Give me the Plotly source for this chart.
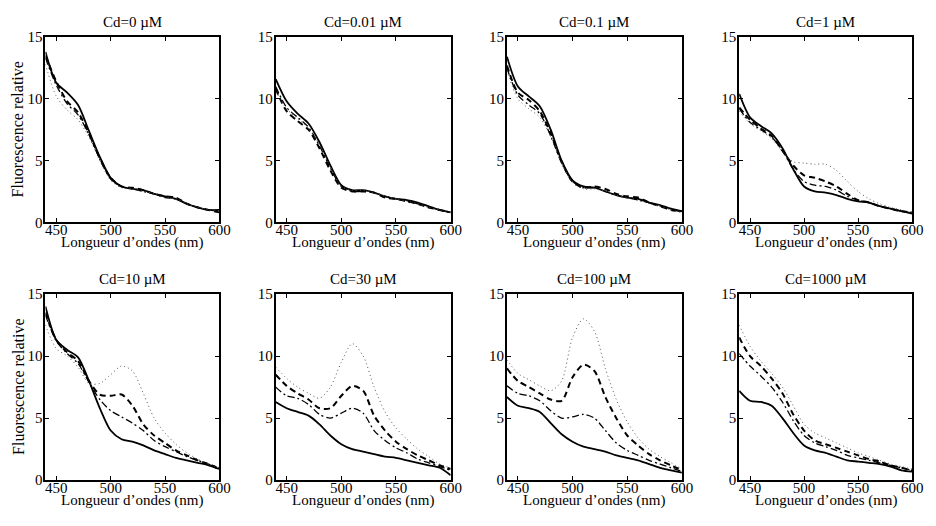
import plotly.graph_objects as go

wavelength = [440, 450, 460, 470, 480, 490, 500, 510, 520, 530, 540, 550, 560, 570, 580, 590, 600]
titles = ["Cd=0 µM", "Cd=0.01 µM", "Cd=0.1 µM", "Cd=1 µM",
          "Cd=10 µM", "Cd=30 µM", "Cd=100 µM", "Cd=1000 µM"]
x_ticks = [450, 500, 550, 600]
y_ticks = [0, 5, 10, 15]
x_title = "Longueur d’ondes (nm)"
y_title = "Fluorescence relative"

# series per panel: solid, dashed, dash-dot, dotted
cd0_solid = [13.8, 11.3, 10.5, 9.5, 7.4, 5.3, 3.6, 2.9, 2.7, 2.6, 2.3, 2.1, 1.9, 1.5, 1.2, 1.0, 1.0]
cd0_dash = [13.5, 11.4, 9.8, 8.9, 7.2, 5.2, 3.6, 2.9, 2.8, 2.6, 2.3, 2.1, 2.0, 1.5, 1.2, 1.0, 0.8]
cd0_dashdot = [13.3, 11.1, 9.6, 8.7, 7.1, 5.1, 3.5, 2.9, 2.7, 2.5, 2.3, 2.0, 1.9, 1.5, 1.2, 1.0, 0.9]
cd0_dot = [12.8, 10.2, 9.1, 8.3, 6.9, 5.0, 3.4, 2.8, 2.7, 2.5, 2.3, 2.0, 1.9, 1.5, 1.2, 1.0, 0.9]

cd001_solid = [11.6, 9.8, 8.8, 8.0, 6.5, 4.6, 3.0, 2.6, 2.6, 2.4, 2.1, 1.9, 1.8, 1.6, 1.3, 1.0, 0.8]
cd001_dash = [10.8, 9.0, 8.2, 7.5, 6.0, 4.2, 2.8, 2.5, 2.5, 2.4, 2.0, 1.9, 1.7, 1.5, 1.2, 1.0, 0.8]
cd001_dashdot = [11.0, 9.3, 8.5, 7.7, 6.2, 4.4, 2.9, 2.5, 2.5, 2.4, 2.1, 1.9, 1.7, 1.5, 1.2, 1.0, 0.8]
cd001_dot = [10.6, 9.2, 8.4, 7.6, 6.3, 4.5, 2.9, 2.6, 2.6, 2.4, 2.1, 1.9, 1.7, 1.5, 1.2, 1.0, 0.8]

cd01_solid = [13.4, 11.0, 10.2, 9.4, 7.5, 5.0, 3.4, 2.9, 2.8, 2.5, 2.2, 2.0, 1.9, 1.6, 1.4, 1.1, 0.9]
cd01_dash = [12.7, 10.5, 9.9, 9.0, 7.2, 4.9, 3.3, 2.8, 2.9, 2.7, 2.3, 2.1, 2.0, 1.6, 1.3, 1.0, 0.9]
cd01_dashdot = [12.5, 10.3, 9.5, 8.8, 7.0, 4.8, 3.3, 2.8, 2.8, 2.5, 2.2, 2.0, 1.8, 1.6, 1.3, 1.1, 0.8]
cd01_dot = [12.3, 10.0, 9.2, 8.5, 6.9, 4.8, 3.2, 2.7, 2.7, 2.5, 2.2, 2.0, 1.8, 1.5, 1.3, 1.0, 0.8]

cd1_solid = [10.4, 8.5, 7.8, 7.2, 6.0, 4.3, 2.9, 2.5, 2.4, 2.2, 1.9, 1.7, 1.6, 1.3, 1.1, 0.9, 0.7]
cd1_dash = [9.3, 8.3, 7.6, 7.0, 5.8, 4.6, 3.8, 3.6, 3.3, 2.9, 2.3, 1.8, 1.6, 1.3, 1.1, 0.9, 0.8]
cd1_dashdot = [9.2, 8.1, 7.5, 6.9, 5.8, 4.3, 3.3, 3.0, 2.9, 2.6, 2.1, 1.8, 1.6, 1.3, 1.1, 0.9, 0.8]
cd1_dot = [9.0, 8.0, 7.4, 6.8, 5.7, 4.9, 4.8, 4.7, 4.7, 4.2, 3.3, 2.5, 1.9, 1.5, 1.2, 1.0, 0.8]

cd10_solid = [14.0, 11.3, 10.5, 9.9, 8.0, 5.8, 4.0, 3.3, 3.1, 2.8, 2.4, 2.1, 1.8, 1.6, 1.4, 1.2, 0.9]
cd10_dash = [13.5, 11.3, 10.3, 9.6, 8.0, 6.9, 6.8, 6.9, 6.0, 4.5, 3.6, 3.0, 2.4, 2.0, 1.6, 1.3, 0.9]
cd10_dashdot = [13.3, 11.2, 10.2, 9.4, 7.9, 6.5, 5.6, 5.1, 4.6, 4.0, 3.2, 2.7, 2.3, 1.9, 1.6, 1.3, 1.0]
cd10_dot = [12.5, 10.6, 10.0, 9.1, 7.8, 7.8, 8.5, 9.2, 8.8, 7.0, 5.0, 3.8, 2.9, 2.2, 1.7, 1.3, 1.0]

cd30_solid = [6.3, 5.8, 5.5, 5.2, 4.5, 3.6, 2.9, 2.5, 2.3, 2.1, 1.9, 1.8, 1.6, 1.4, 1.2, 1.0, 0.4]
cd30_dash = [8.5, 7.6, 7.0, 6.5, 5.8, 5.8, 6.8, 7.6, 7.2, 5.2, 4.0, 3.1, 2.5, 2.0, 1.6, 1.2, 0.9]
cd30_dashdot = [7.5, 6.8, 6.6, 6.1, 5.3, 5.0, 5.4, 5.8, 5.4, 4.0, 3.2, 2.6, 2.2, 1.7, 1.4, 1.1, 0.8]
cd30_dot = [9.1, 8.2, 7.5, 7.0, 6.6, 7.5, 9.5, 11.0, 10.0, 7.5, 5.5, 4.2, 3.3, 2.5, 1.9, 1.3, 1.0]

cd100_solid = [6.7, 6.0, 5.8, 5.5, 4.6, 3.7, 3.1, 2.7, 2.5, 2.3, 2.0, 1.8, 1.6, 1.3, 1.0, 0.8, 0.6]
cd100_dash = [9.0, 8.0, 7.5, 7.0, 6.5, 6.4, 8.3, 9.3, 8.8, 6.7, 5.0, 3.6, 2.8, 2.1, 1.6, 1.2, 0.8]
cd100_dashdot = [7.6, 7.0, 6.8, 6.4, 5.6, 5.0, 5.1, 5.3, 5.0, 4.0, 3.0, 2.4, 2.0, 1.6, 1.3, 1.0, 0.7]
cd100_dot = [9.7, 8.6, 8.1, 7.6, 7.2, 8.0, 11.5, 13.0, 12.0, 9.0, 6.5, 4.7, 3.4, 2.5, 1.9, 1.4, 0.9]

cd1000_solid = [7.2, 6.4, 6.3, 6.0, 5.0, 3.8, 2.8, 2.4, 2.2, 1.9, 1.6, 1.5, 1.4, 1.3, 1.1, 0.8, 0.7]
cd1000_dash = [11.5, 10.0, 9.2, 8.2, 7.0, 5.3, 4.0, 3.2, 2.9, 2.6, 2.3, 2.0, 1.7, 1.5, 1.2, 1.0, 0.8]
cd1000_dashdot = [10.2, 9.2, 8.4, 7.5, 6.3, 4.8, 3.6, 3.0, 2.7, 2.4, 2.0, 1.8, 1.6, 1.4, 1.2, 1.0, 0.8]
cd1000_dot = [12.5, 10.8, 9.6, 8.6, 7.5, 6.0, 4.5, 3.8, 3.4, 3.0, 2.6, 2.2, 1.9, 1.6, 1.3, 1.1, 0.9]

panels = [
    (cd0_solid, cd0_dash, cd0_dashdot, cd0_dot),
    (cd001_solid, cd001_dash, cd001_dashdot, cd001_dot),
    (cd01_solid, cd01_dash, cd01_dashdot, cd01_dot),
    (cd1_solid, cd1_dash, cd1_dashdot, cd1_dot),
    (cd10_solid, cd10_dash, cd10_dashdot, cd10_dot),
    (cd30_solid, cd30_dash, cd30_dashdot, cd30_dot),
    (cd100_solid, cd100_dash, cd100_dashdot, cd100_dot),
    (cd1000_solid, cd1000_dash, cd1000_dashdot, cd1000_dot),
]

styles = [
    dict(color="black", width=1.8, dash="solid"),
    dict(color="black", width=2.0, dash="6px,4px"),
    dict(color="black", width=1.3, dash="7px,3px,2px,3px"),
    dict(color="#555555", width=1.0, dash="1px,3px"),
]

W, H = 936, 526
col_px = [(46, 222), (279, 456), (513, 690), (748, 923)]
row_px = [(30, 221), (295, 487)]

FONT = "Liberation Serif"

fig = go.Figure()
annotations = []
for i, series in enumerate(panels):
    r, c = divmod(i, 4)
    k = "" if i == 0 else str(i + 1)
    xa, ya = "x" + k, "y" + k
    for vals, st in zip(series, styles):
        fig.add_trace(go.Scatter(x=wavelength, y=vals, mode="lines", xaxis=xa, yaxis=ya,
                                 line=dict(shape="spline", smoothing=0.8, **st),
                                 showlegend=False, hoverinfo="skip"))
    x0, x1 = col_px[c]
    y0, y1 = row_px[r]
    common = dict(showline=True, linewidth=2, linecolor="black", mirror="ticks",
                  ticks="inside", ticklen=4, tickwidth=1, tickcolor="black",
                  showgrid=False, zeroline=False,
                  tickfont=dict(family=FONT, size=15, color="black"))
    fig.layout["xaxis" + k] = dict(domain=[x0 / W, x1 / W], range=[440, 600],
                                   tickvals=x_ticks, anchor=ya, ticklabelstandoff=-7, **common)
    fig.layout["yaxis" + k] = dict(domain=[1 - y1 / H, 1 - y0 / H], range=[0, 15],
                                   tickvals=y_ticks, anchor=xa, ticklabelstandoff=-2, **common)
    annotations.append(dict(text=titles[i], x=(x0 + x1) / 2 / W, y=1 - (y0 - 16) / H,
                            xref="paper", yref="paper", showarrow=False,
                            xanchor="center", yanchor="middle",
                            font=dict(family=FONT, size=15, color="black")))
    annotations.append(dict(text=x_title, x=(x0 + x1) / 2 / W, y=1 - (y1 + 21) / H,
                            xref="paper", yref="paper", showarrow=False,
                            xanchor="center", yanchor="middle",
                            font=dict(family=FONT, size=15, color="black")))
    if c == 0:
        annotations.append(dict(text=y_title, x=18 / W, y=1 - ((y0 + y1) / 2) / H,
                                xref="paper", yref="paper", showarrow=False, textangle=-90,
                                xanchor="center", yanchor="middle",
                                font=dict(family=FONT, size=16, color="black")))

fig.update_layout(width=W, height=H, margin=dict(l=0, r=0, t=0, b=0),
                  paper_bgcolor="white", plot_bgcolor="white",
                  annotations=annotations, showlegend=False)

fig.write_html("out.html", config={"displayModeBar": False},
               post_script=("document.documentElement.style.overflow='hidden';"
                            "document.body.style.margin='0';document.body.style.overflow='hidden';"
                            "var gd=document.getElementById('{plot_id}');"
                            "gd.style.position='fixed';gd.style.left='0px';gd.style.top='0px';"))
